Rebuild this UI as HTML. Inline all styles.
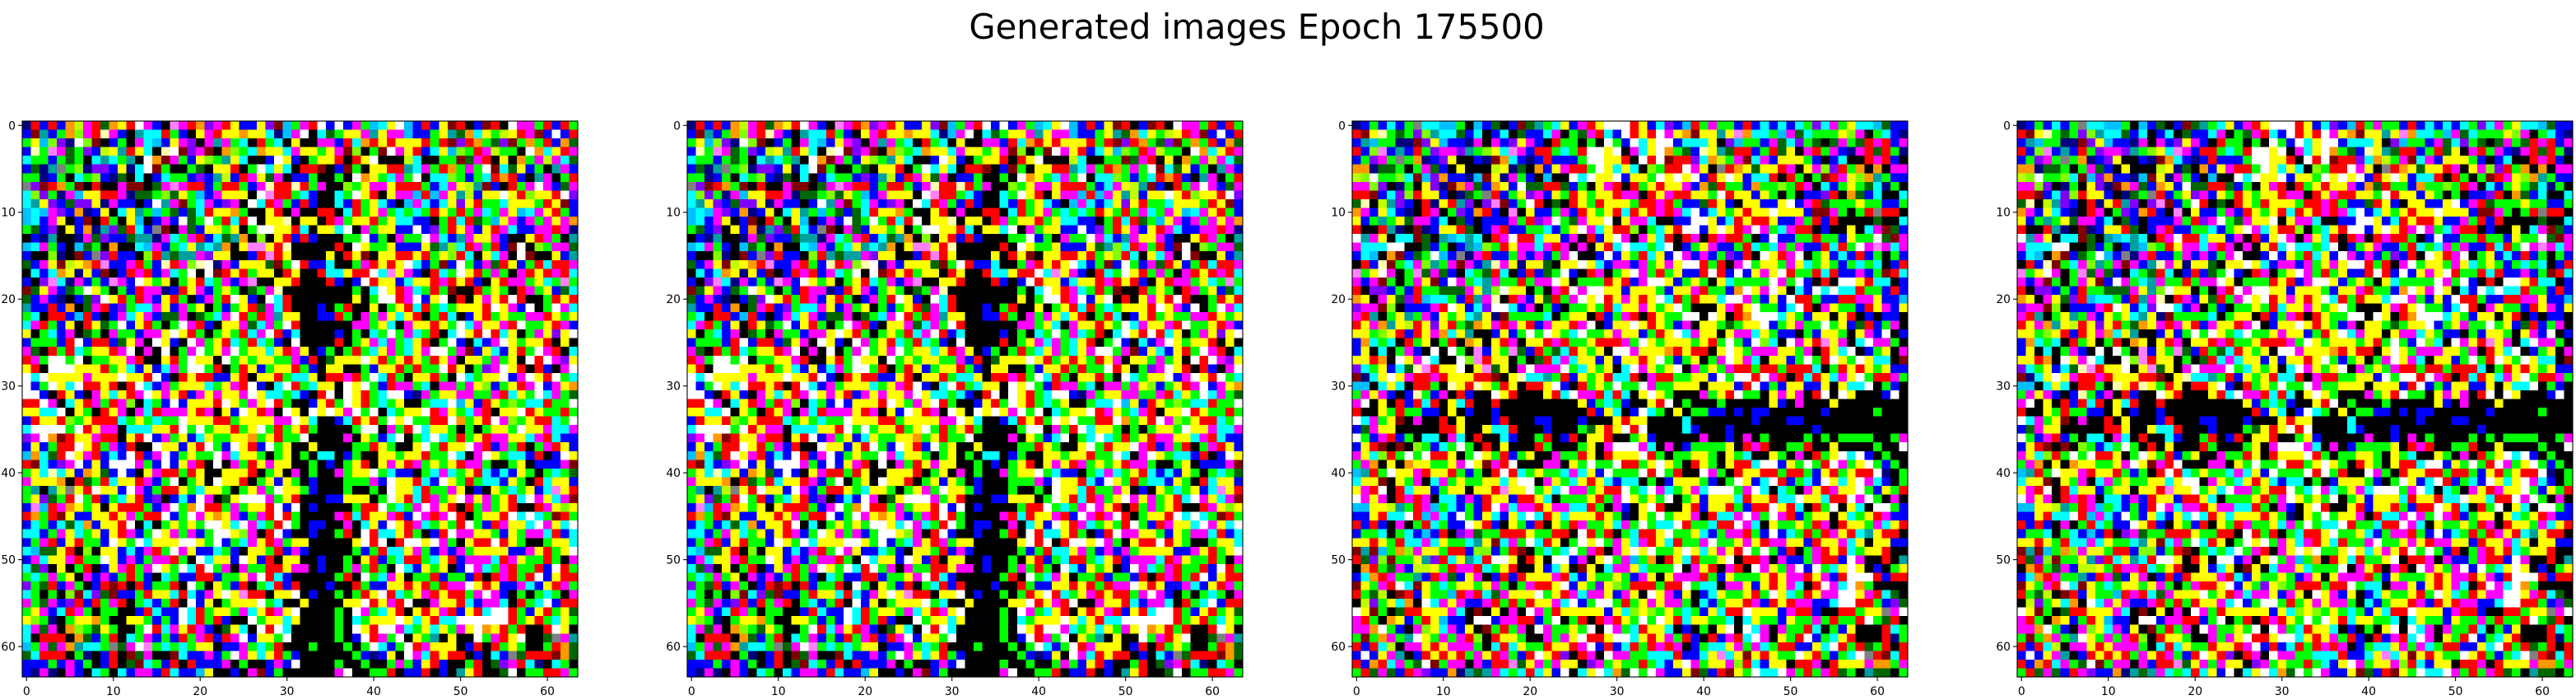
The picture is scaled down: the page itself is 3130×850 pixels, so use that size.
<!DOCTYPE html>
<html><head><meta charset="utf-8">
<style>
html,body{margin:0;padding:0;background:#fff;}
body{width:3130px;height:845px;overflow:hidden;}
svg text{font-family:"DejaVu Sans","Liberation Sans",sans-serif;}
</style></head>
<body>
<svg id="fig" width="3130" height="845" xmlns="http://www.w3.org/2000/svg">
<text x="1527" y="47" font-size="41.7" text-anchor="middle" fill="#000">Generated images Epoch 175500</text>
</svg>
<script>
const palette = {k:"#000000",w:"#ffffff",r:"#ff0000",g:"#00ff00",b:"#0000ff",c:"#00ffff",m:"#ff00ff",y:"#ffff00",o:"#ff9900",d:"#006600",n:"#000080",p:"#ff80ff",l:"#ffffb0",v:"#8000ff",s:"#808080",e:"#00a0a0",h:"#80ff00",i:"#00c0ff",t:"#800000",u:"#c0ff00"};
const tickValues = [0,10,20,30,40,50,60];
const panelLefts = [27,835,1643,2451];
const panelTransposed = [false,false,true,true];
const imageRows = [
"nrbrboumrdoyrwmb kpmrovmrybbyvtig mrwbwbmgicywibrb ytrkbtrkwmmgrbrg",
"btebgohmrlmbkecc rgbkymryyoyycnim wkcdgyymeymmibbg yedocyguyrmtbwbr",
"gyihvnwhtkbgkmci bymvkmemgckrgcky kkmmbrcoryryyyrg rtvrogdvtgogrbod",
"blgpmdgvbuyeryck lwtvmtkohgcoyycm yygymthkgtwmyrbc yihgrmuggkwocyrm",
"cggbgdgkcecgekwo tmgbyhgeyckkbwyb kgyyrkrywkkkuckk ggtdmrkykogmumcd",
"bdnesghnvvbyncwt gkkgdkyyrkgwcyck rrtkbtgkyyrrecmg rogmgwtcdybgkemb",
"ggnbgkcghbndkckb cggbvbeubrmydmkb bgkkgkwoygcmgwkc chgbgcrorbkemkgr",
"svtrogtkrkkmttkd mpmrrbgrrgbmlrrl rgmkkhgymmyrrrgb cmyuetbkrgmwmbdm",
"chvgnmiyyrrmnddg hdygibmyyykwprrg cbkkcgwyrkymmiri myeubyywyrhyyrwv",
"ceyvbdvvynmbbkbw emtgcmbvmkwcrmgb rbkkcbrgycbkimcb cyvyrggcyyygrytb",
"icimvbonbykcyegi gdbdcryyogkkyrkm kkrrkcrgymgcgcgr ygrgmcgmyicmyrgb",
"icbmykbtkrgkyikb mbwdgwgrcrwkyylk yykrmgyyrgyccbbk grcrdgiymbmgmymo",
"gdbvkybonevdrcbs tkmdbyygykgwwyyr ckyycwkmgyybbwbv grymbyrmcbbmmrmn",
"kbnekknmdvbbdeen mcgmrbcdeokhkyrb rbkkkggwbgkmggwm cbemyymbkkyrmgke",
"icmgbkidgkokkcim bgcyeceokyppyrlk kkkkrkwyggybbbyd ehcrmgrbtwkhgmmd",
"bkkhnktbsvrbbkhr edeemvyykkbrpryk kkkykrytkyyrryrg yhrckycmkwtkkybe",
"dbmytuyorpbbmrgb lrmhlwnmbyyydtgw rbbckkgmryrywcbg tbwgbmdrybgrcrrm",
"kcbcoynybtkbrmrb mcgwkwtryrgyykry kkrccyrrwcpymbkr cgwyrgmgkmryrmrc",
"bkvpcnmbgbpmbwyg ykgyrcgmbmpkkyyr kkkrbkbwryybcyyr mryrbkyrmmgycgpg",
"tdymbdgwygkgbrmm nbrymbgygkdgmlkk kkkkkkgkcwyrmcgr gtkkrgygkrmgybdc",
"dbmbnkbdvwyrgrmb yrgkbmgrwybkwcrk kkkkkkykgwwrmwby wkrkymyrwrkkgryr",
"ebbrbokdmrbvgccm ybmgykgbgyrdmcrk kkbkgrkkykgyrcrg cgyyyrwymbwkgwmc",
"gckrrbirbkbmcymb ddmkdgcmwrgrmeyy kkbbrgkmgmycyrkg rckbyrgyggmmrygy",
"cmrgbykrydgwbyrg kgwmrbkyymdcmgwr kkkkkkmmgyckmyyr ygwcmyymrwggyrmb",
"ykgcbmkdgkmggbmm ywyrgkgygrcmwrbc kkkkbkgkcgwgmcgr kcwyrwrcykgmyvyw",
"bgggbrwbrrbdymkw ybkwmgyrcgrcgbkw kkkkrkgymcmgcyrk gwbkcbmwygyyrkyk",
"mdkrgrcgyyrmwkmk wkgmwgymwgyycyrm ykbgkgrgcymgcymw wgmtbycbyrgwmrkc",
"rmgwwgwkggyymrkk yrgwyykwgygyyggm brkdyyywyrgyrygr ymkyygmgykwrwmvy",
"yrkwwwyyyrgycbyb cmgwwgrkgrybgyyr gbkyykkgbyyrgrgg wrykgvmwyrkrbkmw",
"wcwyyyymyyywyyrw bkryrrbbyrkyyrgc cykrrmrgwcrgkyyr gkwcgyywbmwyrwgc",
"wbgwycwrryrkrwcb mgyyycgymrwbkcwr gcyykwywgbrmmgck mmgmyhbgyrmwbmyo",
"wwbkrybkmycyrmwy myrbmymyymwyccgc bkrwkwyrgcwwbnmg yymmggmrcygwcmgd",
"rrwmkcyrmgrmhkcg bwbyyyrwygmywrgk kbyrgwyrgcgykkgc cwiybryghgccrggw",
"yyccwkygkrymkmcr mmmyrmkybwyrmkwy kwywymwgwkcgyywr mygcmrkyywryggrg",
"bryyrhgyrrrcgygc ggwyyyrrgyyyymmw yckkbcryrgwywggr rwogyrwmhgyrrcgw",
"cwwwwgwrymmkcccy yrwgwgyyrgywgrgy rgkkkkgwwkmgrwcy ygkgkgyygwyymccm",
"vmwotryymrrkyrwb mgybcyggyyogyrgg wkkkkmkygbcwkgcw cgrgyrmmyycmrcbb",
"bybgrrwyrgmbrkkw yybyrwgbwyrbwgyk kykkkkggrygkkywg ryywmrbmgrkgmryb",
"iocdrwymrbcbwrbm wbgyggwmcyygkgyk gkcckbgkkyygyyrg gwckmwygccbrkbwy",
"rtcbvmwbybwwwmgb wbymrkwkmgrymyyk kgkbkgyrkymyrmgy gyrmmgkkgykbbbmt",
"gyclcyboydbwbkym rrgrykkyyyrkgykm kgkkmgyywgcbbkgc mcgyrcbcbygkgcgd",
"myyyokrdgrcyyrmb gwkgykwyyrkgybyg kbkkkgggmbwyyrcb wygrgccbygkrcyyb",
"gekeusyrwyybwmbg rrygcyygkgymgwyy gbkkkgkkgkwyycrg gmykbkygcgybcpyr",
"gyvdgrwgrbgcyrbv kbcbwmkdywwwmgyr kkkbbyyykgwyrcrm gywmymgyrcwmycmt",
"bpirmoygykyrrrgb mwgowrrgmgyyrwbw kbkkkkgrrwgcgmwm yrkrgmgyrkkrmyhy",
"rogrtybbyyrymgrr wbgwmyoymbgmrwrg kkkkmrcryymrbwmr mwrkgyyrwcwcgtrg",
"bcgbcdcobyyrwkck gygygwwycwmcgrwg kbbkkmkcybwyrmcg ygrwgbrmyycwmycw",
"ccbgmycgybyrmbgw ymgmbgwwyhmkrwbk kbkkgrkwrccyrgkb rwmmyygbygmmcrbc",
"bgmrbyrggbwygwcy yywwygwbgcmyrmgy ykkkkkywrwkrwwyw mgkyrrwrygkkgyyc",
"ciddyrkhkyybcbmr gwmybbcgbkyygrbm bkkkkkgbgrccymgb mbmgyyyybbmyrgyw",
"bmcyymrggwybmbgm mrgkwcyybwybrkyy kkbkkgkyrbgcrrgc yrbmmmcrmyggrgkm",
"cdvkykgrkbymrgmw ygwcrwgmkmggrrym mkbkkgmgrgkwcbyg ykbwmcgmrggrbwrg",
"gcgmgykmbmbgrgbk cgbbrrbggymwrcbk kkkkgrkwgcmykggr bggbrkrmrgrwbyrr",
"vgdrbmgkbrtrkrbg grkwgkygbrkgcrbr kkkbkkrgbbyyryrg rmmwyrybbmcbyrmg",
"cgkgkhtcvdtbbgry ycrcbmywyprrkyyw kbkkgkgrywrcgymr yrrgmwmbkgkgcgkm",
"mgdmbvrbrgmrkgcb grkwbykgyyywgckk ykkkkyywrymrwkkm yyrcbmmckrgcwbrr",
"gymbcrmgkggkkbrc bbwcrgyygmcyrmyw kkkkgkwmgcyrkyry mrbyrcwwrgbyrgyd",
"yhgnkgyyogkkyygb gbwcrgrbkkwgyycy kkkkgkcgyyywycyr ccwwwwwwrgyrgcyg",
"cmdmkohgdygkkgwr cmyrmbkdyckwrwck kkkkgkwyrwwmcgyc ygmywoyrgrkkrwyk",
"ckrrrkodbgrkcgmb gbrgmrbrmwbyygwk kkkkgkbwrmgwkyge kykkwgmrywkkdsme",
"igmdmoeccgsdmwpg cgcgyykbbmgcgrkk kgkkkgkgwcbgwrmy yykbrkrgygkkgrod",
"dcrrrkgnkbrktdmk ktcbbmbgwmycyrgb kkkkkkgbnbykwmcr yrrkbkcbsdrrrtod",
"bbbgbmbgkbrkdtcg brkrbbbmkgkkbmbw kkkkgkkgkkgmgbyr bkkgrkdvmrcnkcgk",
"bnmnkmbkcgkcbmmb rcbbiykkbkmtbgkk kkkkmwkkggrkbbrk bkeyrkkdwkggrrmg"
];

const NS = "http://www.w3.org/2000/svg";
const svg = document.getElementById('fig');
const SIZE = 675, TOP = 147;
const grid = imageRows.map(function(r){
  let s = r.replace(/\s+/g,'');
  while (s.length < 64) s += s.charAt(s.length-1) || 'k';
  return s.slice(0,64).split('');
});
const N = grid.length;
function mk(tag, attrs){ const el=document.createElementNS(NS,tag); for(const k in attrs) el.setAttribute(k,attrs[k]); return el; }

panelLefts.forEach(function(left, p){
  const cell = SIZE / N;
  const xScale = function(v){ return left + (v + 0.5) * cell; };
  const yScale = function(v){ return TOP + (v + 0.5) * cell; };
  const g = mk('g', {});
  
  
  svg.appendChild(g);
  const img = mk('g', {'shape-rendering':'crispEdges'});
  
  
  g.appendChild(img);
  for (let r = 0; r < N; r++) {
    for (let c = 0; c < N; c++) {
      const code = panelTransposed[p] ? grid[c][r] : grid[r][c];
      const x0 = left + c * cell, y0 = TOP + r * cell;
      const rect = mk('rect', {x: x0.toFixed(2), y: y0.toFixed(2), width: (cell+0.3).toFixed(2), height: (cell+0.3).toFixed(2), fill: palette[code] || '#000'});
      img.appendChild(rect);
    }
  }
  const frame = mk('rect', {x:left, y:TOP, width:SIZE, height:SIZE, fill:'none', stroke:'#000', 'stroke-width':1.1});
  
  
  g.appendChild(frame);
  const xa = mk('g', {});
  
  
  g.appendChild(xa);
  const ya = mk('g', {});
  
  
  g.appendChild(ya);
  tickValues.forEach(function(t){
    const x = xScale(t), y = yScale(t), bot = TOP + SIZE;
    xa.appendChild(mk('line', {x1:x, x2:x, y1:bot, y2:bot+5, stroke:'#000', 'stroke-width':1.1}));
    const xl = mk('text', {x:x, y:bot+22, 'font-size':13.9, 'text-anchor':'middle', fill:'#000'});
    
    
    xl.textContent = String(t);
    xa.appendChild(xl);
    ya.appendChild(mk('line', {x1:left-5, x2:left, y1:y, y2:y, stroke:'#000', 'stroke-width':1.1}));
    const yl = mk('text', {x:left-8, y:y+5, 'font-size':13.9, 'text-anchor':'end', fill:'#000'});
    
    
    yl.textContent = String(t);
    ya.appendChild(yl);
  });
});
</script>
</body></html>
